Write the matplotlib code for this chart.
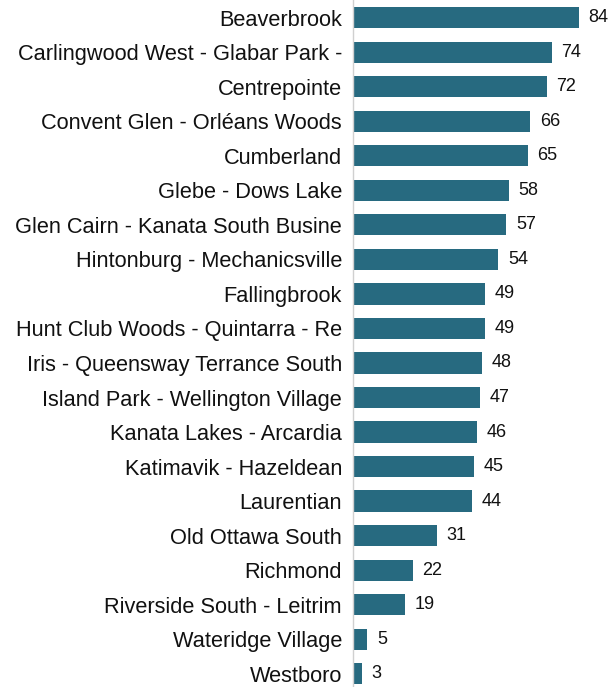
import numpy as np
from matplotlib import pyplot as plt

plt.rcParams.update({
  "font.family": ['Liberation Sans', 'DejaVu Sans'],
})

names = [
  "Beaverbrook",
  "Carlingwood West - Glabar Park -",
  "Centrepointe",
  "Convent Glen - Orléans Woods",
  "Cumberland",
  "Glebe - Dows Lake",
  "Glen Cairn - Kanata South Busine",
  "Hintonburg - Mechanicsville",
  "Fallingbrook",
  "Hunt Club Woods - Quintarra - Re",
  "Iris - Queensway Terrance South",
  "Island Park - Wellington Village",
  "Kanata Lakes - Arcardia",
  "Katimavik - Hazeldean",
  "Laurentian",
  "Old Ottawa South",
  "Richmond",
  "Riverside South - Leitrim",
  "Wateridge Village",
  "Westboro",
]
counts = [84, 74, 72, 66, 65, 58, 57, 54, 49, 49, 48, 47, 46, 45, 44, 31, 22, 19, 5, 3]

fig = plt.figure(figsize=(6.10, 6.87), dpi=100)
ax = fig.add_axes([353/610, 0, 1 - 353/610, 1])

pos = np.arange(len(names))
ax.barh(pos, counts, height=0.61, color='#276a80', left=0.3)

# value labels just past the bar ends
for p, v in zip(pos, counts):
  ax.text(v + 0.3 + 3.6, p, str(v), va='center', ha='left', fontsize=13, color='#111111')

ax.set_ylim(19.39, -0.52)
ax.set_xlim(0, 96)

ax.set_yticks(pos)
ax.set_yticklabels(names, fontsize=15.7, color='#111111')
ax.tick_params(axis='y', length=0, pad=8)
ax.set_xticks([])

for s in ['top', 'right', 'bottom']:
  ax.spines[s].set_visible(False)
ax.spines['left'].set_color('#d0d0d0')
ax.spines['left'].set_linewidth(1.0)

fig.savefig('out.png', dpi=100)
